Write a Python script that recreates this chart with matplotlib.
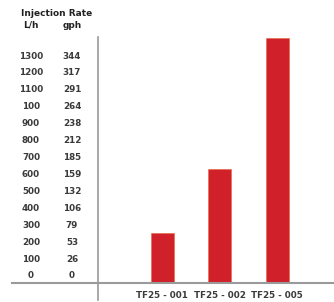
import numpy as np
import matplotlib.pyplot as plt
import matplotlib.transforms as mtransforms

# data
models = ['TF25 - 001', 'TF25 - 002', 'TF25 - 005']
rates = [295, 674, 1450]           # L/h
lph_labels = ['1300', '1200', '1100', '100', '900', '800', '700',
              '600', '500', '400', '300', '200', '100', '0']
gph_labels = ['344', '317', '291', '264', '238', '212', '185',
              '159', '132', '106', '79', '53', '26', '0']
tick_pos = np.arange(1300, -1, -100)

W, H = 334, 302
fig = plt.figure(figsize=(W / 100, H / 100), dpi=100)
fig.patch.set_facecolor('white')

left, right, bottom, top = 98, 334, 283, 37
ax = fig.add_axes([left / W, 1 - bottom / H, (right - left) / W, (bottom - top) / H])

text_col = '#3a3a3a'
line_col = '#9a9a9a'

x = np.arange(len(models))
ax.bar(x, rates, width=0.4, color='#d0212b', edgecolor='#e8643a', linewidth=0.4)
ax.set_xlim(-1.113, 2.99)
ax.set_ylim(0, 1454)

for s in ['top', 'right']:
    ax.spines[s].set_visible(False)
ax.spines['left'].set_color(line_col)
ax.spines['left'].set_linewidth(1.2)
ax.spines['bottom'].set_visible(False)

# long base line and the bit of the vertical line below it
ax.axhline(0, xmin=-(left - 12) / (right - left), xmax=1, color=line_col, lw=1.5, clip_on=False)
ax.plot([0, 0], [0, -17 / (bottom - top)], transform=ax.transAxes, color=line_col, lw=1.2, clip_on=False)

ax.set_xticks(x)
ax.set_xticklabels(models, fontsize=6.3, color=text_col, fontweight='bold')
ax.tick_params(axis='x', length=0, pad=6)
ax.set_yticks([])

# two columns of y labels
offset = mtransforms.ScaledTranslation(0, 7 / 100, fig.dpi_scale_trans)
tr = ax.get_yaxis_transform() + offset
for y, a, b in zip(tick_pos, lph_labels, gph_labels):
    ax.text((31 - left) / (right - left), y, a, transform=tr, ha='center', va='center',
            fontsize=6.3, color=text_col, fontweight='bold')
    ax.text((72 - left) / (right - left), y, b, transform=tr, ha='center', va='center',
            fontsize=6.3, color=text_col, fontweight='bold')

fig.text(57 / W, 1 - 13 / H, 'Injection Rate', ha='center', va='center',
         fontsize=6.5, color='#222222', fontweight='bold')
fig.text(31 / W, 1 - 25 / H, 'L/h', ha='center', va='center',
         fontsize=6.5, color='#222222', fontweight='bold')
fig.text(72 / W, 1 - 25 / H, 'gph', ha='center', va='center',
         fontsize=6.5, color='#222222', fontweight='bold')

fig.savefig('out.png', dpi=100)
